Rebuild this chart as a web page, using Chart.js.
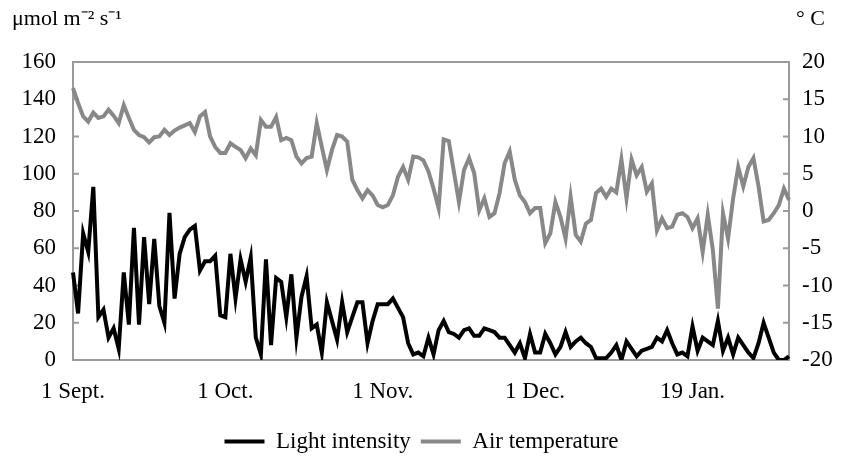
<!DOCTYPE html>
<html>
<head>
<meta charset="utf-8">
<script src="https://cdn.jsdelivr.net/npm/chart.js@4"></script>
<style>
  html, body { margin: 0; padding: 0; background: #fff; }
  #wrap { width: 843px; height: 459px; }
</style>
</head>
<body>
<div id="wrap"><canvas id="lightChart"></canvas></div>
<script>
// daily readings, 1 Sept. to end of Jan.
const lightIntensity = [
  47, 25, 68, 58, 93, 23, 27, 12, 17, 6, 47, 19, 71, 19, 66, 30, 65, 29, 20, 79, 33, 57, 66, 70,
  72, 48, 53, 53, 56, 24, 23, 57, 33, 54, 42, 55, 12, 3, 54, 8, 44, 42, 23, 46, 12, 34, 45,
  17, 19, 4, 31, 21, 11, 31, 15, 23, 31, 31, 9, 21, 30, 30, 30, 33, 28, 23, 9, 3, 4, 2, 12,
  3, 16, 21, 15, 14, 12, 16, 17, 13, 13, 17, 16, 15, 12, 12, 8, 4, 9, 1, 14, 4, 4, 14, 9,
  3, 7, 15, 7, 10, 12, 9, 7, 1, 1, 1, 4, 8, 0, 10, 6, 2, 5, 6, 7, 12, 10, 16,
  9, 3, 4, 2, 18, 5, 12, 10, 8, 21, 5, 12, 3, 12, 8, 4, 1, 9, 20, 12, 4, 0, 0, 2
];
const airTemperature = [
  16.5, 14.5, 12.7, 12, 13.2, 12.5, 12.7, 13.6, 12.8, 11.8, 14.2, 12.5, 10.9, 10.2, 9.9, 9.2, 9.9, 10, 10.9, 10.2, 10.8, 11.2, 11.5, 11.8,
  10.6, 12.7, 13.3, 10, 8.6, 7.8, 7.8, 9.1, 8.6, 8.2, 7.1, 8.4, 7.5, 12.2, 11.3, 11.3, 12.6, 9.5, 9.8, 9.5, 7.3, 6.4, 7.1,
  7.3, 11.8, 8.6, 5.5, 8.2, 10.2, 10, 9.3, 4.2, 2.8, 1.7, 2.8, 2.1, 0.8, 0.5, 0.8, 2.1, 4.6, 5.9, 4.2, 7.3, 7.2, 6.8,
  5.3, 3, 0.4, 9.6, 9.4, 5.3, 1.2, 5.5, 7.1, 5.1, 0.1, 1.7, -0.8, -0.3, 2.4, 6.4, 8, 4.2, 2.1, 1.2, -0.3, 0.4, 0.4, -4.3,
  -3, 1.2, -0.8, -3.7, 1.9, -3.2, -4.1, -1.7, -1.2, 2.4, 3, 1.9, 3, 2.5, 6.9, 1.7, 6.9, 4.8, 5.9, 2.6, 3.7, -2.6, -1, -2.3,
  -2.1, -0.5, -0.3, -0.8, -2.3, -1, -5.5, -0.5, -5.2, -13.1, -0.3, -3.7, 1.7, 5.9, 3.3, 5.9, 7.1, 3.3, -1.4, -1.2, -0.3, 0.8, 3, 1.5
];
const tickPositions = [0, 30, 61, 91, 122];
const tickLabels = ["1 Sept.", "1 Oct.", "1 Nov.", "1 Dec.", "19 Jan."];

const days = lightIntensity.map((v, i) => i);

const FONT = "'Liberation Serif', 'Times New Roman', serif";
const AXIS_GREY = "#9a9a9a";

// plot box, inner tick marks and the two unit captions
const frame = {
  id: "frame",
  beforeDatasetsDraw(chart) {
    const { ctx, chartArea: a, scales } = chart;
    ctx.save();
    ctx.strokeStyle = AXIS_GREY;
    ctx.lineWidth = 2;
    ctx.strokeRect(a.left, a.top, a.right - a.left, a.bottom - a.top);
    ctx.beginPath();
    scales.y.ticks.forEach((t) => {
      const py = scales.y.getPixelForValue(t.value);
      ctx.moveTo(a.left, py);
      ctx.lineTo(a.left + 6, py);
    });
    scales.y1.ticks.forEach((t) => {
      const py = scales.y1.getPixelForValue(t.value);
      ctx.moveTo(a.right, py);
      ctx.lineTo(a.right - 6, py);
    });
    ctx.stroke();
    ctx.restore();
  },
  afterDraw(chart) {
    const ctx = chart.ctx;
    ctx.save();
    ctx.fillStyle = "#000";
    ctx.font = "22px " + FONT;
    ctx.textBaseline = "middle";
    ctx.fillText("\u03bcmol m\u207b\u00b2 s\u207b\u00b9", 12, 19);
    ctx.fillText("\u00b0 C", 796, 19);
    ctx.restore();
  },
};

new Chart(document.getElementById("lightChart"), {
  type: "line",
  data: {
    labels: days,
    datasets: [
      {
        label: "Light intensity",
        data: lightIntensity,
        borderColor: "#000",
        backgroundColor: "#000",
        borderWidth: 4,
        pointRadius: 0,
        tension: 0,
        yAxisID: "y",
      },
      {
        label: "Air temperature",
        data: airTemperature,
        borderColor: "#888",
        backgroundColor: "#888",
        borderWidth: 4,
        pointRadius: 0,
        tension: 0,
        yAxisID: "y1",
      },
    ],
  },
  options: {
    responsive: true,
    maintainAspectRatio: false,
    animation: false,
    layout: { padding: { top: 62, left: 0, right: 0, bottom: -4 } },
    plugins: {
      tooltip: { enabled: false },
      legend: {
        position: "bottom",
        labels: {
          color: "#000",
          font: { family: FONT, size: 23 },
          usePointStyle: true,
          pointStyle: "line",
          pointStyleWidth: 40,
          padding: 10,
        },
      },
    },
    scales: {
      x: {
        type: "category",
        offset: false,
        grid: { display: false, drawTicks: false },
        border: { display: false },
        ticks: {
          autoSkip: false,
          maxRotation: 0,
          padding: 18,
          color: "#000",
          font: { family: FONT, size: 23 },
          callback: (v, i) => {
            const k = tickPositions.indexOf(i);
            return k >= 0 ? tickLabels[k] : null;
          },
        },
        afterFit: (s) => { s.height = 60; },
      },
      y: {
        position: "left",
        min: 0,
        max: 160,
        grid: { display: false, drawTicks: false },
        border: { display: false },
        ticks: {
          stepSize: 20,
          padding: 17,
          color: "#000",
          font: { family: FONT, size: 23 },
        },
        afterFit: (s) => { s.width = 73; },
      },
      y1: {
        position: "right",
        min: -20,
        max: 20,
        grid: { display: false, drawTicks: false },
        border: { display: false },
        ticks: {
          stepSize: 5,
          padding: 13,
          color: "#000",
          font: { family: FONT, size: 23 },
        },
        afterFit: (s) => { s.width = 54; },
      },
    },
  },
  plugins: [frame],
});
</script>
</body>
</html>
